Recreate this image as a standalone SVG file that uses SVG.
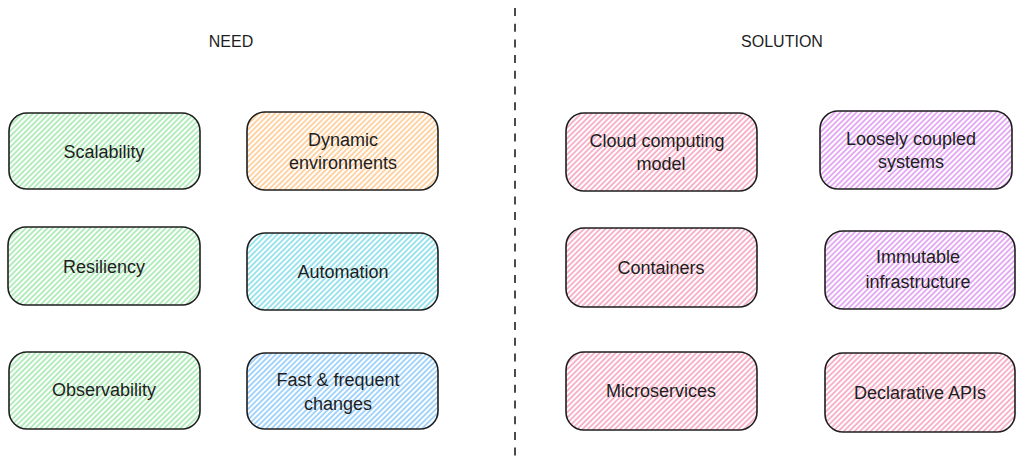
<svg xmlns="http://www.w3.org/2000/svg" width="1024" height="474" viewBox="0 0 1024 474">
<style>
.box{stroke:#1e1e1e;stroke-width:1.6;}
.lbl{font-family:"Liberation Sans","DejaVu Sans",sans-serif;font-size:18px;fill:#1e1e1e;text-anchor:middle;}
.ttl{font-family:"Liberation Sans","DejaVu Sans",sans-serif;font-size:16px;fill:#1e1e1e;text-anchor:middle;}
</style>
<defs>
<pattern id="hGreen" patternUnits="userSpaceOnUse" width="3.8" height="10" patternTransform="rotate(45)"><line x1="1" y1="0" x2="1" y2="10" stroke="#69db7c" stroke-width="1"/></pattern>
<pattern id="hOrange" patternUnits="userSpaceOnUse" width="3.8" height="10" patternTransform="rotate(45)"><line x1="1" y1="0" x2="1" y2="10" stroke="#ffa94d" stroke-width="1"/></pattern>
<pattern id="hCyan" patternUnits="userSpaceOnUse" width="3.8" height="10" patternTransform="rotate(45)"><line x1="1" y1="0" x2="1" y2="10" stroke="#3bc9db" stroke-width="1"/></pattern>
<pattern id="hBlue" patternUnits="userSpaceOnUse" width="3.8" height="10" patternTransform="rotate(45)"><line x1="1" y1="0" x2="1" y2="10" stroke="#4dabf7" stroke-width="1"/></pattern>
<pattern id="hPink" patternUnits="userSpaceOnUse" width="3.8" height="10" patternTransform="rotate(45)"><line x1="1" y1="0" x2="1" y2="10" stroke="#f06c98" stroke-width="1"/></pattern>
<pattern id="hPurple" patternUnits="userSpaceOnUse" width="3.8" height="10" patternTransform="rotate(45)"><line x1="1" y1="0" x2="1" y2="10" stroke="#cc5de8" stroke-width="1"/></pattern>
</defs>
<rect width="1024" height="474" fill="#ffffff"/>
<g id="connectors">
<line x1="515" y1="8" x2="515" y2="460" stroke="#1e1e1e" stroke-width="1.6" stroke-dasharray="8 7.7"/>
</g>
<g id="title-need"><text class="ttl" x="231" y="47">NEED</text></g>
<g id="title-solution"><text class="ttl" x="782" y="47">SOLUTION</text></g>
<g id="scalability"><rect class="box" x="9" y="113" width="191" height="76" rx="18" fill="url(#hGreen)"/><text class="lbl" x="104" y="158">Scalability</text></g>
<g id="dynamic"><rect class="box" x="247" y="112" width="191" height="78" rx="18" fill="url(#hOrange)"/><text class="lbl" x="343" y="146">Dynamic</text><text class="lbl" x="343" y="169">environments</text></g>
<g id="resiliency"><rect class="box" x="8" y="227" width="192" height="78" rx="18" fill="url(#hGreen)"/><text class="lbl" x="104" y="273">Resiliency</text></g>
<g id="automation"><rect class="box" x="247" y="233" width="191" height="77" rx="18" fill="url(#hCyan)"/><text class="lbl" x="343" y="278">Automation</text></g>
<g id="observability"><rect class="box" x="9" y="352" width="191" height="77" rx="18" fill="url(#hGreen)"/><text class="lbl" x="104" y="396">Observability</text></g>
<g id="fast"><rect class="box" x="247" y="353" width="191" height="76" rx="18" fill="url(#hBlue)"/><text class="lbl" x="338" y="386">Fast &amp; frequent</text><text class="lbl" x="338" y="410">changes</text></g>
<g id="cloud"><rect class="box" x="566" y="113" width="191" height="78" rx="18" fill="url(#hPink)"/><text class="lbl" x="657" y="147">Cloud computing</text><text class="lbl" x="661" y="170">model</text></g>
<g id="loosely"><rect class="box" x="820" y="111" width="192" height="78" rx="18" fill="url(#hPurple)"/><text class="lbl" x="911" y="145">Loosely coupled</text><text class="lbl" x="911" y="168">systems</text></g>
<g id="containers"><rect class="box" x="566" y="228" width="191" height="79" rx="18" fill="url(#hPink)"/><text class="lbl" x="661" y="274">Containers</text></g>
<g id="immutable"><rect class="box" x="825" y="231" width="190" height="78" rx="18" fill="url(#hPurple)"/><text class="lbl" x="918" y="263">Immutable</text><text class="lbl" x="918" y="288">infrastructure</text></g>
<g id="microservices"><rect class="box" x="566" y="352" width="191" height="78" rx="18" fill="url(#hPink)"/><text class="lbl" x="661" y="397">Microservices</text></g>
<g id="declarative"><rect class="box" x="825" y="353" width="190" height="79" rx="18" fill="url(#hPink)"/><text class="lbl" x="920" y="399">Declarative APIs</text></g>
</svg>
